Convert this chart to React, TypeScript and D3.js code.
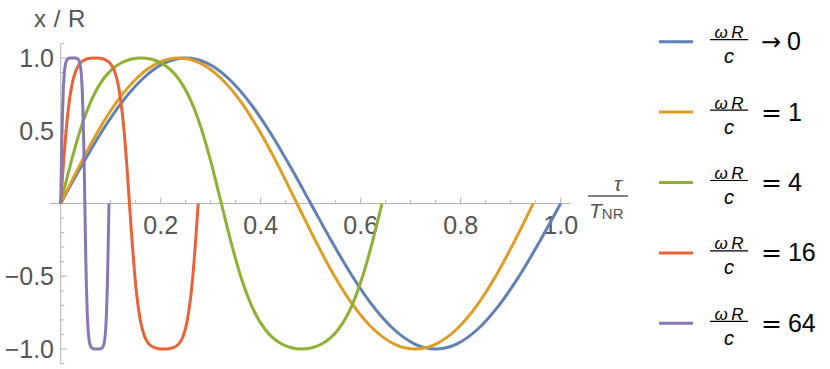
import React from "react";
import * as d3 from "d3";

// ---- data: x/R versus tau/T_NR for several values of omega R / c ----
const seriesNR: [number, number][] = [
  [0, 0], [0.0417, 0.2588], [0.0833, 0.5], [0.125, 0.7071], [0.1667, 0.866], [0.2083, 0.9659], [0.25, 1],
  [0.2917, 0.9659], [0.3333, 0.866], [0.375, 0.7071], [0.4167, 0.5], [0.4583, 0.2588], [0.5, 0],
  [0.5417, -0.2588], [0.5833, -0.5], [0.625, -0.7071], [0.6667, -0.866], [0.7083, -0.9659], [0.75, -1],
  [0.7917, -0.9659], [0.8333, -0.866], [0.875, -0.7071], [0.9167, -0.5], [0.9583, -0.2588], [1, 0],
];
const series1: [number, number][] = [
  [0, 0], [0.0374, 0.2588], [0.0752, 0.5], [0.1139, 0.7071], [0.1538, 0.866], [0.1947, 0.9659], [0.2363, 1],
  [0.2778, 0.9659], [0.3187, 0.866], [0.3586, 0.7071], [0.3973, 0.5], [0.4352, 0.2588], [0.4725, 0],
  [0.5099, -0.2588], [0.5477, -0.5], [0.5864, -0.7071], [0.6263, -0.866], [0.6672, -0.9659], [0.7088, -1],
  [0.7503, -0.9659], [0.7912, -0.866], [0.8311, -0.7071], [0.8698, -0.5], [0.9077, -0.2588], [0.945, 0],
];
const series4: [number, number][] = [
  [0, 0], [0.0188, 0.2588], [0.0387, 0.5], [0.061, 0.7071], [0.0875, 0.866], [0.1032, 0.9239], [0.1207, 0.9659], [0.1401, 0.9914], [0.1607, 1],
  [0.1813, 0.9914], [0.2006, 0.9659], [0.2182, 0.9239], [0.2338, 0.866], [0.2603, 0.7071], [0.2826, 0.5], [0.3025, 0.2588], [0.3213, 0],
  [0.3401, -0.2588], [0.36, -0.5], [0.3823, -0.7071], [0.4089, -0.866], [0.4245, -0.9239], [0.442, -0.9659], [0.4614, -0.9914], [0.482, -1],
  [0.5026, -0.9914], [0.522, -0.9659], [0.5395, -0.9239], [0.5551, -0.866], [0.5817, -0.7071], [0.6039, -0.5], [0.6238, -0.2588], [0.6426, 0],
];
const series16: [number, number][] = [
  [0, 0], [0.0035, 0.1763], [0.0057, 0.2833], [0.0093, 0.4382], [0.0145, 0.6269], [0.0216, 0.7998], [0.0301, 0.9119], [0.0394, 0.9668], [0.0491, 0.9895], [0.0589, 0.9979], [0.0688, 1],
  [0.0786, 0.9979], [0.0884, 0.9895], [0.0981, 0.9668], [0.1074, 0.9119], [0.1159, 0.7998], [0.123, 0.6269], [0.1283, 0.4382], [0.1318, 0.2833], [0.134, 0.1763], [0.1375, 0],
  [0.141, -0.1763], [0.1433, -0.2833], [0.1468, -0.4382], [0.152, -0.6269], [0.1591, -0.7998], [0.1676, -0.9119], [0.1769, -0.9668], [0.1866, -0.9895], [0.1964, -0.9979], [0.2063, -1],
  [0.2161, -0.9979], [0.226, -0.9895], [0.2356, -0.9668], [0.2449, -0.9119], [0.2534, -0.7998], [0.2605, -0.6269], [0.2658, -0.4382], [0.2693, -0.2833], [0.2715, -0.1763], [0.275, 0],
];
const series64: [number, number][] = [
  [0, 0], [0.0013, 0.2532], [0.0021, 0.3962], [0.0033, 0.5796], [0.005, 0.761], [0.007, 0.8884], [0.0093, 0.9544], [0.0117, 0.9826], [0.0142, 0.9936], [0.0192, 0.9993], [0.0241, 1],
  [0.0291, 0.9993], [0.0341, 0.9936], [0.0365, 0.9826], [0.0389, 0.9544], [0.0412, 0.8884], [0.0433, 0.761], [0.045, 0.5796], [0.0462, 0.3962], [0.047, 0.2532], [0.0483, 0],
  [0.0495, -0.2532], [0.0503, -0.3962], [0.0515, -0.5796], [0.0532, -0.761], [0.0553, -0.8884], [0.0576, -0.9544], [0.06, -0.9826], [0.0625, -0.9936], [0.0674, -0.9993], [0.0724, -1],
  [0.0774, -0.9993], [0.0823, -0.9936], [0.0848, -0.9826], [0.0872, -0.9544], [0.0895, -0.8884], [0.0915, -0.761], [0.0932, -0.5796], [0.0944, -0.3962], [0.0952, -0.2532], [0.0965, 0],
];

const seriesList = [seriesNR, series1, series4, series16, series64];
const legendSymbols = ["→", "=", "=", "=", "="];
const legendValues = ["0", "1", "4", "16", "64"];
const colors = ["#5E81B5", "#E19C24", "#8FB032", "#EB6235", "#8778B3"];

const xTickValues = [0.2, 0.4, 0.6, 0.8, 1.0];
const xTickLabels = ["0.2", "0.4", "0.6", "0.8", "1.0"];
const yTickValues = [-1, -0.5, 0.5, 1];
const yTickLabels = ["−1.0", "−0.5", "0.5", "1.0"];

const W = 830;
const H = 369;
const FONT = "'Liberation Sans', Arial, sans-serif";
const AXIS = "#b3b3b3";
const LABEL = "#555555";

export default function App() {
  const x = d3.scaleLinear().domain([0, 1]).range([60.7, 560.7]);
  const y = d3.scaleLinear().domain([-1, 1]).range([349, 58]);
  const line = d3
    .line<[number, number]>()
    .x((d) => x(d[0]))
    .y((d) => y(d[1]))
    .curve(d3.curveMonotoneX);

  const xMinor = d3.range(1, 21).map((i) => i * 0.05).filter((v) => Math.abs(v / 0.2 - Math.round(v / 0.2)) > 1e-6);
  const yMinor = d3.range(-11, 12).map((i) => i * 0.1).filter((v) => Math.abs(v * 2 - Math.round(v * 2)) > 1e-6);

  const legendY0 = 41.7;
  const legendDy = 70.4;

  return (
    <svg
      width={W}
      height={H}
      style={{ position: "absolute", left: 0, top: 0, background: "#fff" }}
      fontFamily={FONT}
    >
      {/* axes */}
      <line x1={x(-0.0227)} x2={x(1.0187)} y1={y(0)} y2={y(0)} stroke={AXIS} strokeWidth={1} />
      <line x1={x(0)} x2={x(0)} y1={y(-1.1)} y2={y(1.1)} stroke={AXIS} strokeWidth={1} />
      {xMinor.map((v, i) => (
        <line key={"xm" + i} x1={x(v)} x2={x(v)} y1={y(0)} y2={y(0) - 3.5} stroke={AXIS} strokeWidth={1} />
      ))}
      {xTickValues.map((v, i) => (
        <line key={"xM" + i} x1={x(v)} x2={x(v)} y1={y(0)} y2={y(0) - 6} stroke={AXIS} strokeWidth={1} />
      ))}
      {yMinor.map((v, i) => (
        <line key={"ym" + i} x1={x(0)} x2={x(0) + 3.5} y1={y(v)} y2={y(v)} stroke={AXIS} strokeWidth={1} />
      ))}
      {yTickValues.map((v, i) => (
        <line key={"yM" + i} x1={x(0)} x2={x(0) + 6} y1={y(v)} y2={y(v)} stroke={AXIS} strokeWidth={1} />
      ))}
      {xTickValues.map((v, i) => (
        <text key={"xl" + i} x={x(v)} y={y(0) + 30} textAnchor="middle" fontSize={25} fill={LABEL}>
          {xTickLabels[i]}
        </text>
      ))}
      {yTickValues.map((v, i) => (
        <text key={"yl" + i} x={54} y={y(v) + 9} textAnchor="end" fontSize={25} fill={LABEL}>
          {yTickLabels[i]}
        </text>
      ))}

      {/* axis labels */}
      <text x={34} y={27} fontSize={24} fill={LABEL} letterSpacing={0.5}>x / R</text>
      <text x={618} y={191} textAnchor="middle" fontSize={21} fontStyle="italic" fill={LABEL}>τ</text>
      <line x1={588} x2={628} y1={196} y2={196} stroke={LABEL} strokeWidth={1.3} />
      <text x={589} y={218} fontSize={21} fontStyle="italic" fill={LABEL}>
        T
        <tspan fontSize={15} fontStyle="normal" dy={1}>NR</tspan>
      </text>

      {/* curves */}
      {seriesList.map((s, i) => (
        <path key={"c" + i} d={line(s) || ""} fill="none" stroke={colors[i]} strokeWidth={3} strokeLinejoin="round" />
      ))}

      {/* legend */}
      {legendValues.map((val, i) => {
        const cy = legendY0 + legendDy * i;
        return (
          <g key={"lg" + i}>
            <line x1={659} x2={693} y1={cy} y2={cy} stroke={colors[i]} strokeWidth={3} />
            <text x={729} y={cy - 3.5} textAnchor="middle" fontSize={17} fontStyle="italic" fill="#000">
              ω{"\u2009"}R
            </text>
            <line x1={710} x2={748} y1={cy - 2} y2={cy - 2} stroke="#000" strokeWidth={1.2} />
            <text x={729} y={cy + 21.5} textAnchor="middle" fontSize={20} fontStyle="italic" fill="#000">
              c
            </text>
            <text x={761} y={cy + 8.5} fontSize={25} fill="#000">
              <tspan fontFamily="'DejaVu Sans', sans-serif" fontSize={i === 0 ? 24 : 25}>{legendSymbols[i]}</tspan>
              <tspan dx={6}>{val}</tspan>
            </text>
          </g>
        );
      })}
    </svg>
  );
}
